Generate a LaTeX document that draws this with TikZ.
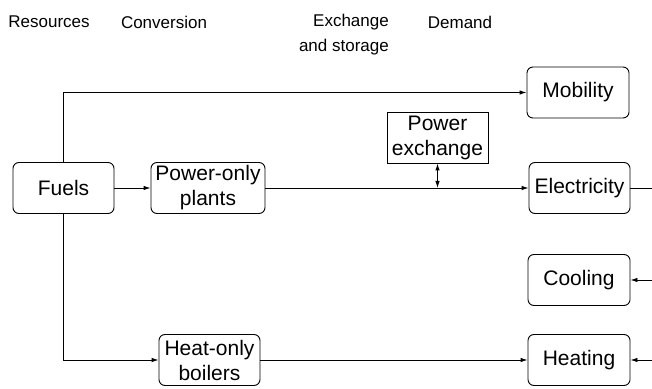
\documentclass[tikz,border=0pt]{standalone}
\usepackage{fontspec}
\setmainfont{Liberation Sans}
\usetikzlibrary{arrows.meta}

\begin{document}
\begin{tikzpicture}[
    x=1pt, y=1pt,
    header/.style={font=\fontsize{17}{25}\selectfont, align=center, inner sep=0pt},
    box/.style={rectangle, rounded corners=6pt, draw, line width=0.9pt, minimum width=101pt, minimum height=51pt, align=center, inner sep=0pt, font=\fontsize{21}{25}\selectfont},
    market/.style={rectangle, draw, line width=0.9pt, minimum width=101pt, minimum height=51pt, align=center, inner sep=0pt, font=\fontsize{21}{25}\selectfont},
    flow/.style={-{Latex[length=7pt,width=4.5pt]}, line width=0.9pt},
    link/.style={line width=0.9pt}
]
\useasboundingbox (0,0) rectangle (652,388);

% Column headers
\node[header] (hres) at (49,366) {Resources};
\node[header] (hconv) at (164,366) {Conversion};
\node[header, align=right, anchor=east] (hexch) at (389,353.5) {Exchange\\and storage};
\node[header] (hdem) at (460,366) {Demand};

% Resources and conversion
\node[box] (fuels) at (63.5,200) {Fuels};
\node[box, minimum width=114pt] (plants) at (208,200) {Power-only\\plants};
\node[box] (boilers) at (209.5,28) {Heat-only\\boilers};

% Exchange
\node[market] (exchange) at (437.5,250.5) {Power\\exchange};

% Demand
\node[box, minimum width=102pt] (mobility) at (578,295.5) {Mobility};
\node[box] (electricity) at (579.5,200) {Electricity};
\node[box, minimum width=102pt] (cooling) at (579,108) {Cooling};
\node[box, minimum width=102pt] (heating) at (579,28) {Heating};

% Loose ends at the right border
\coordinate (elout) at (652,200);
\coordinate (coolin) at (652,108);
\coordinate (heatin) at (652,28);

% Flows
\draw[flow] (fuels.north) |- (mobility.west);
\draw[flow] (fuels) -- (plants);
\draw[flow] (fuels.south) |- (boilers.west);
\draw[flow] (plants) -- (electricity);
\draw[flow] (boilers) -- (heating);
\draw[{Latex[length=7pt,width=4.5pt]}-{Latex[length=7pt,width=4.5pt]}, link] (exchange.south) -- (exchange.south |- electricity.west);
\draw[link] (electricity.east) -- (elout);
\draw[flow] (coolin) -- (cooling.east);
\draw[flow] (heatin) -- (heating.east);

\end{tikzpicture}
\end{document}
